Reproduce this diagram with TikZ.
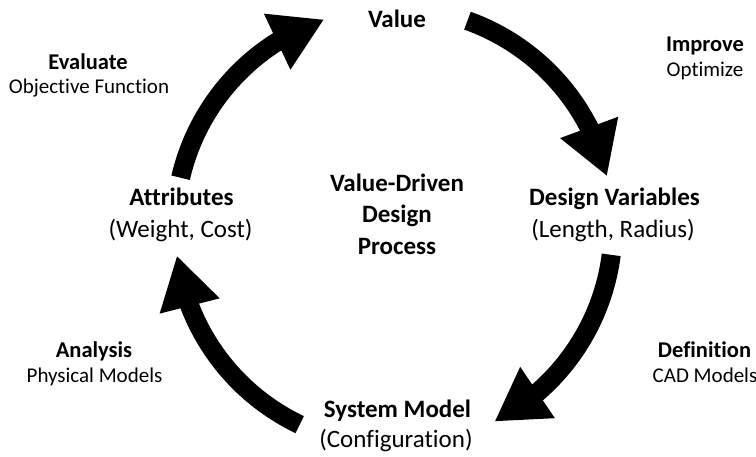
\documentclass[tikz,border=0pt]{standalone}
\usepackage{fontspec}
\setmainfont{Carlito}[RawFeature={-liga;-clig;-dlig}]
\usetikzlibrary{arrows.meta,bending,calc}
\begin{document}
\begin{tikzpicture}[x=1pt,y=1pt,
  mainlbl/.style={inner sep=0pt,anchor=base,font=\fontsize{25}{31}\selectfont\bfseries},
  mainsub/.style={inner sep=0pt,anchor=base,font=\fontsize{25}{31}\selectfont},
  sidelbl/.style={inner sep=0pt,anchor=base,font=\fontsize{22.5}{27}\selectfont\bfseries},
  sidesub/.style={inner sep=0pt,anchor=base,font=\fontsize{21}{25}\selectfont},
  cyc/.style={line width=19pt,-{Triangle[length=52pt,width=58pt,flex]}}]
\useasboundingbox (0,0) rectangle (756,456);
% labels
\node[mainlbl] (value) at (397,428) {Value};
\node[mainlbl] (attr) at (181.5,250) {Attributes};
\node[mainsub] (attrsub) at (180.5,218) {(Weight, Cost)};
\node[mainlbl] (dv) at (614.5,250) {Design Variables};
\node[mainsub] (dvsub) at (613,218) {(Length, Radius)};
\node[mainlbl] (sm) at (397.5,39) {System Model};
\node[mainsub] (smsub) at (396,9) {(Configuration)};
\node[mainlbl] (c1) at (397,264) {Value-Driven};
\node[mainlbl] (c2) at (397,233) {Design};
\node[mainlbl] (c3) at (397,201) {Process};
\node[sidelbl] (eval) at (88,386) {Evaluate};
\node[sidesub] (evalsub) at (89,362) {Objective Function};
\node[sidelbl] (impr) at (705,404) {Improve};
\node[sidesub] (imprsub) at (705,379) {Optimize};
\node[sidelbl] (anal) at (94,99) {Analysis};
\node[sidesub] (analsub) at (94.5,74) {Physical Models};
\node[sidelbl] (defn) at (704.5,99) {Definition};
\node[sidesub] (defnsub) at (705,74) {CAD Models};
% cycle arrows
\coordinate (ctr) at (394,229);
\coordinate (a1) at ($(ctr)+(167:219)$);
\coordinate (a2) at ($(ctr)+(70.4:219)$);
\coordinate (a3) at ($(ctr)+(-7.3:219)$);
\coordinate (a4) at ($(ctr)+(-115.5:219)$);
\draw[cyc] (a1) arc[start angle=167,end angle=108.6,radius=219];
\draw[cyc] (a2) arc[start angle=70.4,end angle=13.4,radius=219];
\draw[cyc] (a3) arc[start angle=-7.3,end angle=-62.7,radius=219];
\draw[cyc] (a4) arc[start angle=-115.5,end angle=-172.5,radius=219];
\end{tikzpicture}
\end{document}
